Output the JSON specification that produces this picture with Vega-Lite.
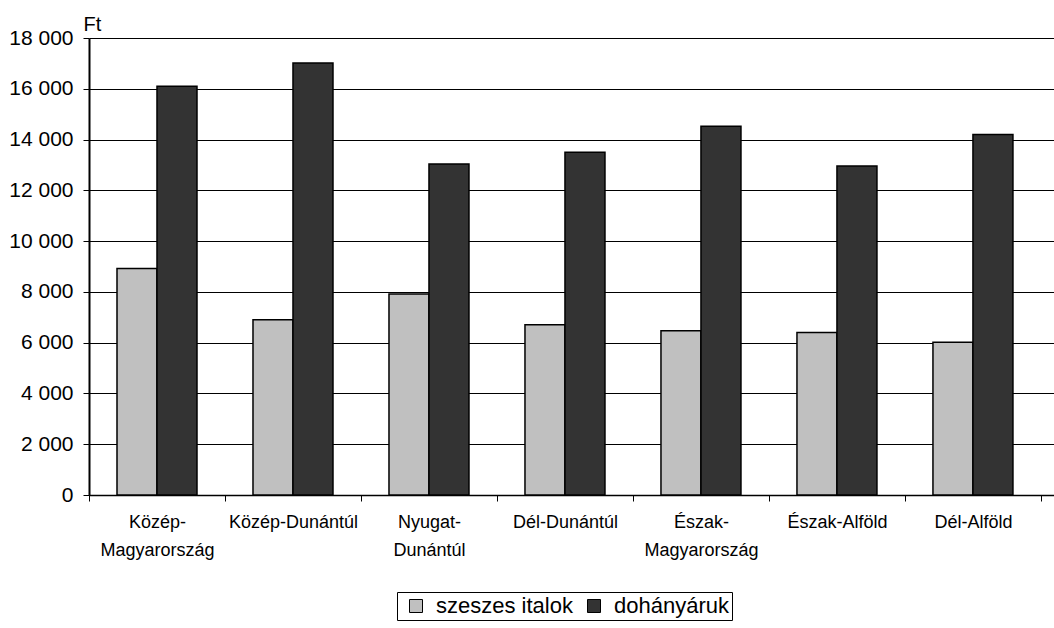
{
  "$schema": "https://vega.github.io/schema/vega-lite/v6.json",
  "width": 965,
  "height": 457,
  "autosize": "none",
  "padding": {"left": 89, "top": 38, "right": 0, "bottom": 133},
  "background": "white",
  "config": {"view": {"stroke": null}, "font": "Liberation Sans, Arial, sans-serif"},
  "data": {
    "values": [
      {"region": "Közép-Magyarország", "series": "szeszes italok", "value": 8920},
      {"region": "Közép-Magyarország", "series": "dohányáruk", "value": 16100},
      {"region": "Közép-Dunántúl", "series": "szeszes italok", "value": 6900},
      {"region": "Közép-Dunántúl", "series": "dohányáruk", "value": 17020},
      {"region": "Nyugat-Dunántúl", "series": "szeszes italok", "value": 7920},
      {"region": "Nyugat-Dunántúl", "series": "dohányáruk", "value": 13040},
      {"region": "Dél-Dunántúl", "series": "szeszes italok", "value": 6710},
      {"region": "Dél-Dunántúl", "series": "dohányáruk", "value": 13500},
      {"region": "Észak-Magyarország", "series": "szeszes italok", "value": 6470},
      {"region": "Észak-Magyarország", "series": "dohányáruk", "value": 14520},
      {"region": "Észak-Alföld", "series": "szeszes italok", "value": 6400},
      {"region": "Észak-Alföld", "series": "dohányáruk", "value": 12960},
      {"region": "Dél-Alföld", "series": "szeszes italok", "value": 6020},
      {"region": "Dél-Alföld", "series": "dohányáruk", "value": 14200}
    ]
  },
  "mark": {"type": "bar", "stroke": "black", "strokeWidth": 1.5},
  "encoding": {
    "x": {
      "field": "region",
      "type": "nominal",
      "sort": null,
      "scale": {"paddingInner": 0, "paddingOuter": 0.048, "align": 0},
      "axis": {
        "title": null,
        "labelAngle": 0,
        "tickBand": "extent",
        "domainColor": "black",
        "domainWidth": 1.5,
        "tickColor": "black",
        "tickWidth": 1,
        "tickSize": 6,
        "labelFontSize": 18,
        "labelColor": "black",
        "labelPadding": 12,
        "labelLineHeight": 28,
        "labelBaseline": "top",
        "labelExpr": "indexof(['Közép-Magyarország','Nyugat-Dunántúl','Észak-Magyarország'], datum.value) >= 0 ? [split(datum.value, '-')[0] + '-', split(datum.value, '-')[1]] : datum.value"
      }
    },
    "xOffset": {
      "field": "series",
      "type": "nominal",
      "sort": ["szeszes italok", "dohányáruk"],
      "scale": {"paddingInner": 0, "paddingOuter": 0.7}
    },
    "y": {
      "field": "value",
      "type": "quantitative",
      "scale": {"domain": [0, 18000], "nice": false},
      "axis": {
        "values": [0, 2000, 4000, 6000, 8000, 10000, 12000, 14000, 16000, 18000],
        "grid": true,
        "gridColor": "black",
        "gridWidth": 1,
        "gridOpacity": 1,
        "domainColor": "black",
        "domainWidth": 2,
        "tickColor": "black",
        "tickSize": 6,
        "labelFontSize": 21,
        "labelColor": "black",
        "labelPadding": 10,
        "labelExpr": "replace(format(datum.value, ','), ',', ' ')",
        "title": "Ft",
        "titleAngle": 0,
        "titleAlign": "left",
        "titleBaseline": "alphabetic",
        "titleX": -6,
        "titleY": -8,
        "titleFontSize": 20,
        "titleFontWeight": "normal",
        "titleColor": "black"
      }
    },
    "color": {
      "field": "series",
      "type": "nominal",
      "scale": {"domain": ["szeszes italok", "dohányáruk"], "range": ["#C0C0C0", "#333333"]},
      "legend": {
        "title": null,
        "orient": "none",
        "legendX": 308,
        "legendY": 554,
        "direction": "horizontal",
        "strokeColor": "black",
        "fillColor": "white",
        "padding": 3,
        "symbolType": "square",
        "symbolSize": 169,
        "symbolStrokeColor": "black",
        "symbolStrokeWidth": 1,
        "symbolOffset": 5,
        "labelOffset": 9,
        "labelFontSize": 22,
        "labelColor": "black",
        "columnPadding": 5
      }
    }
  }
}
